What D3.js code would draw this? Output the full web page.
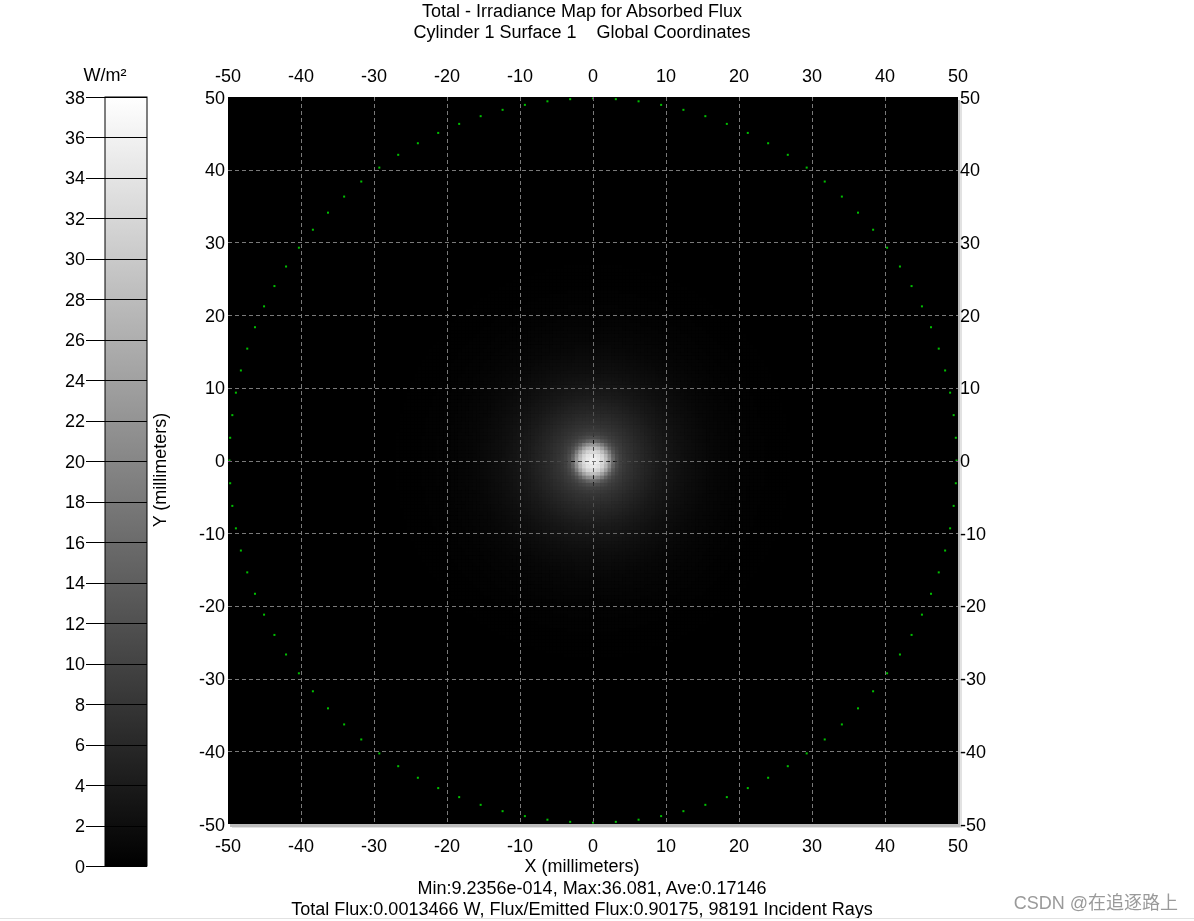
<!DOCTYPE html>
<html>
<head>
<meta charset="utf-8">
<script src="https://cdn.jsdelivr.net/npm/d3@7"></script>
<style>
  html, body { margin: 0; padding: 0; background: #fff; }
  svg { display: block; }
  text { font-family: "Liberation Sans", Arial, sans-serif; font-size: 18px; fill: #000; }
  .grid { mix-blend-mode: difference; }
</style>
</head>
<body>
<script>
// ---------------- data ----------------
const titleLines = ["Total - Irradiance Map for Absorbed Flux", "Cylinder 1 Surface 1    Global Coordinates"];
const footerLines = ["Min:9.2356e-014, Max:36.081, Ave:0.17146", "Total Flux:0.0013466 W, Flux/Emitted Flux:0.90175, 98191 Incident Rays"];
const xLabel = "X (millimeters)";
const yLabel = "Y (millimeters)";
const unitLabel = "W/m\u00B2";
const axisTicks = [-50, -40, -30, -20, -10, 0, 10, 20, 30, 40, 50];
const gridTicks = [-40, -30, -20, -10, 0, 10, 20, 30, 40];
const colorbarTicks = [0, 2, 4, 6, 8, 10, 12, 14, 16, 18, 20, 22, 24, 26, 28, 30, 32, 34, 36, 38];
// radial irradiance profile (radius mm -> W/m^2)
const profileRadius = [0, 0.5, 1, 1.5, 2, 2.5, 3, 3.5, 4, 5, 6, 7, 8, 9, 10, 12, 14, 16, 18, 20, 23, 26, 30];
const profileValue  = [36.08, 35.5, 34, 31, 26, 19, 13, 10.5, 9, 7.5, 6.5, 5.6, 4.8, 4.0, 3.4, 2.4, 1.7, 1.1, 0.75, 0.5, 0.25, 0.1, 0];
// isolated rays on the cylinder rim (angle in degrees)
const ringAngles = [0, 3.6, 7.2, 10.8, 14.4, 18, 21.6, 25.2, 28.8, 32.4, 36, 39.6, 43.2, 46.8, 50.4, 54, 57.6, 61.2, 64.8, 68.4,
  72, 75.6, 79.2, 82.8, 86.4, 90, 93.6, 97.2, 100.8, 104.4, 108, 111.6, 115.2, 118.8, 122.4, 126, 129.6, 133.2, 136.8, 140.4,
  144, 147.6, 151.2, 154.8, 158.4, 162, 165.6, 169.2, 172.8, 176.4, 180, 183.6, 187.2, 190.8, 194.4, 198, 201.6, 205.2, 208.8, 212.4,
  216, 219.6, 223.2, 226.8, 230.4, 234, 237.6, 241.2, 244.8, 248.4, 252, 255.6, 259.2, 262.8, 266.4, 270, 273.6, 277.2, 280.8, 284.4,
  288, 291.6, 295.2, 298.8, 302.4, 306, 309.6, 313.2, 316.8, 320.4, 324, 327.6, 331.2, 334.8, 338.4, 342, 345.6, 349.2, 352.8, 356.4];
const ringRadius = 49.8;
const cellSize = 0.5;
const spotExtent = 30;
const colorMax = 38;
const watermark = "CSDN @\u5728\u8FFD\u9010\u8DEF\u4E0A";

// ---------------- layout ----------------
const W = 1194, H = 921;
const x = d3.scaleLinear().domain([-50, 50]).range([228, 958]);
const y = d3.scaleLinear().domain([-50, 50]).range([824, 97]);
const cb = d3.scaleLinear().domain([0, colorMax]).range([866, 97]);
const gray = d3.scaleLinear().domain([0, colorMax]).range(["#000000", "#ffffff"]).clamp(true);
const profile = d3.scaleLinear().domain(profileRadius).range(profileValue).clamp(true);

const svg = d3.select("body").append("svg").attr("width", W).attr("height", H);

// titles
svg.selectAll("text.title").data(titleLines).join("text")
  .attr("class", "title").attr("x", 582).attr("y", (d, i) => 17 + i * 21)
  .attr("text-anchor", "middle").style("white-space", "pre").attr("xml:space", "preserve").text(d => d);

// plot shadow
const px0 = x(-50), px1 = x(50), py0 = y(50), py1 = y(-50);
svg.append("rect").attr("x", px0 + 4).attr("y", py0 + 4).attr("width", px1 - px0).attr("height", py1 - py0).attr("fill", "#e2e2e2");
svg.append("rect").attr("x", px0 + 2).attr("y", py0 + 3).attr("width", px1 - px0).attr("height", py1 - py0).attr("fill", "#bcbcbc");

// plot background
const plot = svg.append("g");
plot.append("rect").attr("x", px0).attr("y", py0).attr("width", px1 - px0).attr("height", py1 - py0).attr("fill", "#000");

// irradiance cells
const cells = [];
const nCells = Math.round(2 * spotExtent / cellSize);
for (let i = 0; i < nCells; i++) {
  for (let j = 0; j < nCells; j++) {
    const cx = -spotExtent + (i + 0.5) * cellSize;
    const cy = -spotExtent + (j + 0.5) * cellSize;
    const v = profile(Math.hypot(cx, cy));
    if (v > 0) cells.push({ cx, cy, v });
  }
}
const cw = Math.abs(x(cellSize) - x(0));
const ch = Math.abs(y(0) - y(cellSize));
plot.append("g").selectAll("rect").data(cells).join("rect")
  .attr("x", d => x(d.cx - cellSize / 2))
  .attr("y", d => y(d.cy + cellSize / 2))
  .attr("width", cw + 0.6).attr("height", ch + 0.6)
  .attr("fill", d => gray(d.v));

// rim rays
plot.append("g").selectAll("rect").data(ringAngles).join("rect")
  .attr("x", a => x(ringRadius * Math.cos(a * Math.PI / 180)) - 1)
  .attr("y", a => y(ringRadius * Math.sin(a * Math.PI / 180)) - 1)
  .attr("width", 2).attr("height", 2).attr("fill", "#00c000");

// grid
const grid = plot.append("g").attr("class", "grid");
grid.selectAll("line.v").data(gridTicks).join("line").attr("class", "v")
  .attr("x1", d => Math.round(x(d)) + 0.5).attr("x2", d => Math.round(x(d)) + 0.5)
  .attr("y1", py0).attr("y2", py1)
  .attr("stroke", "#7a7a7a").attr("stroke-width", 1).attr("stroke-dasharray", "4,3");
grid.selectAll("line.h").data(gridTicks).join("line").attr("class", "h")
  .attr("y1", d => Math.round(y(d)) + 0.5).attr("y2", d => Math.round(y(d)) + 0.5)
  .attr("x1", px0).attr("x2", px1)
  .attr("stroke", "#7a7a7a").attr("stroke-width", 1).attr("stroke-dasharray", "4,3");

// axis labels
svg.append("g").selectAll("text").data(axisTicks).join("text")
  .attr("x", d => x(d)).attr("y", 82).attr("text-anchor", "middle").text(d => d);
svg.append("g").selectAll("text").data(axisTicks).join("text")
  .attr("x", d => x(d)).attr("y", 852).attr("text-anchor", "middle").text(d => d);
svg.append("g").selectAll("text").data(axisTicks).join("text")
  .attr("x", 225).attr("y", d => y(d) + 6.5).attr("text-anchor", "end").text(d => d);
svg.append("g").selectAll("text").data(axisTicks).join("text")
  .attr("x", 960).attr("y", d => y(d) + 6.5).attr("text-anchor", "start").text(d => d);

svg.append("text").attr("x", 582).attr("y", 872).attr("text-anchor", "middle").text(xLabel);
svg.append("text").attr("transform", "translate(166,470) rotate(-90)").attr("text-anchor", "middle").text(yLabel);

svg.append("text").attr("x", 592).attr("y", 894).attr("text-anchor", "middle").text(footerLines[0]);
svg.append("text").attr("x", 582).attr("y", 915).attr("text-anchor", "middle").text(footerLines[1]);

// colorbar
const defs = svg.append("defs");
const grad = defs.append("linearGradient").attr("id", "cbgrad").attr("x1", 0).attr("y1", 1).attr("x2", 0).attr("y2", 0);
grad.selectAll("stop").data([0, colorMax]).join("stop")
  .attr("offset", d => d / colorMax).attr("stop-color", d => gray(d));
const cbX0 = 105, cbX1 = 147;
svg.append("rect").attr("x", cbX0).attr("y", cb(colorMax)).attr("width", cbX1 - cbX0).attr("height", cb(0) - cb(colorMax))
  .attr("fill", "url(#cbgrad)").attr("stroke", "#000").attr("stroke-width", 1);
const cbt = svg.append("g");
cbt.selectAll("line").data(colorbarTicks).join("line")
  .attr("x1", 86).attr("x2", cbX1).attr("y1", d => Math.round(cb(d)) + 0.5).attr("y2", d => Math.round(cb(d)) + 0.5)
  .attr("stroke", "#000").attr("stroke-width", 1);
cbt.selectAll("text").data(colorbarTicks).join("text")
  .attr("x", 85).attr("y", d => cb(d) + 6.5).attr("text-anchor", "end").text(d => d);
svg.append("text").attr("x", 105).attr("y", 81).attr("text-anchor", "middle").text(unitLabel);

// page border + watermark
svg.append("line").attr("x1", 0).attr("x2", W).attr("y1", 918.5).attr("y2", 918.5).attr("stroke", "#e2e2e2");
svg.append("text").attr("x", 1178).attr("y", 909).attr("text-anchor", "end")
  .style("font-family", "'Liberation Sans', 'Noto Sans CJK SC', sans-serif").style("fill", "#9a9a9a").text(watermark);
</script>
</body>
</html>
